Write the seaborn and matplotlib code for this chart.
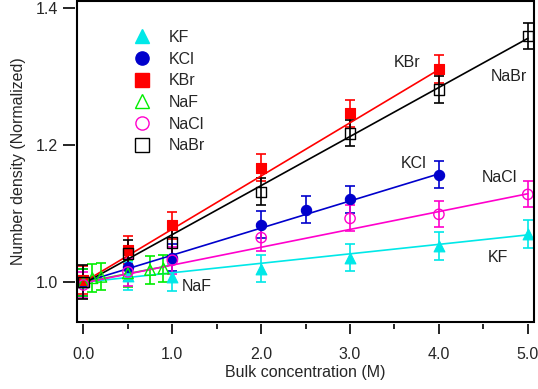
import numpy as np
import pandas as pd
import matplotlib
matplotlib.use("Agg")
import matplotlib.pyplot as plt
from matplotlib.patches import Rectangle
import seaborn as sns

# ---- data ----
salts = ["KF", "KCl", "KBr", "NaF", "NaCl", "NaBr"]

KF_x = [0, 0.5, 1, 2, 3, 4, 5]
KF_y = [1.000, 1.009, 1.007, 1.020, 1.036, 1.053, 1.070]
KF_e = [0.02, 0.02, 0.02, 0.02, 0.02, 0.02, 0.02]

KCl_x = [0, 0.5, 1, 2, 2.5, 3, 4]
KCl_y = [1.000, 1.022, 1.036, 1.084, 1.106, 1.121, 1.157]
KCl_e = [0.02, 0.02, 0.02, 0.02, 0.019, 0.02, 0.02]

KBr_x = [0, 0.5, 1, 2, 3, 4]
KBr_y = [1.003, 1.047, 1.083, 1.167, 1.246, 1.311]
KBr_e = [0.02, 0.02, 0.02, 0.02, 0.02, 0.02]

NaF_x = [0, 0.1, 0.2, 0.5, 0.75, 0.9]
NaF_y = [1.000, 1.006, 1.008, 1.013, 1.018, 1.020]
NaF_e = [0.02, 0.02, 0.02, 0.02, 0.02, 0.02]

NaCl_x = [0, 0.5, 1, 2, 3, 4, 5]
NaCl_y = [0.996, 1.015, 1.032, 1.065, 1.093, 1.099, 1.128]
NaCl_e = [0.019, 0.02, 0.02, 0.02, 0.019, 0.019, 0.019]

NaBr_x = [0, 0.5, 1, 2, 3, 4, 5]
NaBr_y = [1.000, 1.042, 1.058, 1.132, 1.217, 1.281, 1.359]
NaBr_e = [0.025, 0.02, 0.02, 0.02, 0.019, 0.019, 0.019]

# linear fits: slope, intercept, x-range end
fit_slope = [0.0138, 0.0395, 0.0775, 0.025, 0.026, 0.0715]
fit_icpt = [1.000, 1.000, 1.000, 1.000, 0.999, 0.998]
fit_xmax = [5.0, 4.0, 4.0, 0.95, 5.0, 5.0]

# label annotations (data coords)
ann_text = ["KBr", "NaBr", "KCl", "NaCl", "KF", "NaF"]
ann_x = [3.64, 4.79, 3.72, 4.68, 4.66, 1.28]
ann_y = [1.321, 1.300, 1.173, 1.152, 1.036, 0.994]

xticks = [0, 1, 2, 3, 4, 5]
xticklabels = ["0.0", "1.0", "2.0", "3.0", "4.0", "5.0"]
yticks = [1.0, 1.2, 1.4]
yticklabels = ["1.0", "1.2", "1.4"]

# ---- styling ----
sns.set_theme(style="ticks")
plt.rcParams["font.family"] = ["Liberation Sans", "DejaVu Sans"]
FS = 11.5

colors = ["#00e8e8", "#0000cc", "#ff0000", "#00ee00", "#ff00cc", "#000000"]
markers = ["^", "o", "s", "^", "o", "s"]
filled = [True, True, True, False, False, False]
msizes = [60, 55, 55, 60, 55, 55]

series = [
    (KF_x, KF_y, KF_e), (KCl_x, KCl_y, KCl_e), (KBr_x, KBr_y, KBr_e),
    (NaF_x, NaF_y, NaF_e), (NaCl_x, NaCl_y, NaCl_e), (NaBr_x, NaBr_y, NaBr_e),
]

fig = plt.figure(figsize=(5.38, 3.89), dpi=100)
ax = fig.add_axes([77 / 538, (389 - 322) / 389, 457 / 538, 321 / 389])

handles = []
for i, (name, (xs, ys, es)) in enumerate(zip(salts, series)):
    c = colors[i]
    ax.errorbar(xs, ys, yerr=es, fmt="none", ecolor=c, elinewidth=1.2,
                capsize=3.4, capthick=1.2, zorder=2)
    xf = np.array([0.0, fit_xmax[i]])
    ax.plot(xf, fit_icpt[i] + fit_slope[i] * xf, color=c, lw=1.2, zorder=3)
    df = pd.DataFrame({"x": xs, "y": ys})
    if filled[i]:
        sns.scatterplot(data=df, x="x", y="y", ax=ax, marker=markers[i],
                        s=msizes[i], color=c, edgecolor=c, linewidth=0.8,
                        zorder=4, legend=False)
    else:
        sns.scatterplot(data=df, x="x", y="y", ax=ax, marker=markers[i],
                        s=msizes[i], facecolor="none", edgecolor=c,
                        linewidth=1.0, zorder=4, legend=False)
    h = plt.Line2D([], [], ls="none", marker=markers[i], markersize=9.5,
                   color=c, markerfacecolor=c if filled[i] else "none",
                   markeredgecolor=c, markeredgewidth=1.0)
    handles.append(h)

for t, x, y in zip(ann_text, ann_x, ann_y):
    ax.text(x, y, t, fontsize=FS, ha="center", va="center", color="#222222")

ax.set_xlim(-0.073, 5.07)
ax.set_ylim(0.942, 1.410)

ax.set_xticks(xticks)
ax.set_xticklabels(xticklabels)
ax.set_xticks(np.arange(0.5, 5.0, 1.0), minor=True)
ax.set_yticks(yticks)
ax.set_yticklabels(yticklabels)

for s in ax.spines.values():
    s.set_visible(False)
ax.spines["left"].set_position(("outward", 1.5))
ax.spines["bottom"].set_position(("outward", 1.5))
ax.add_patch(Rectangle((0, 0), 1, 1, transform=ax.transAxes, fill=False,
                       edgecolor="black", lw=1.5, clip_on=False, zorder=10))

ax.tick_params(axis="x", which="major", direction="out", length=7.5,
               width=1.2, color="black", pad=9, labelsize=FS)
ax.tick_params(axis="x", which="minor", direction="out", length=3.8,
               width=1.2, color="black")
ax.tick_params(axis="y", which="major", direction="out", length=8.5,
               width=1.2, color="black", pad=3.5, labelsize=FS)
ax.tick_params(axis="y", which="minor", length=0)

ax.set_xlabel("Bulk concentration (M)", fontsize=FS, labelpad=2)
ax.set_ylabel("Number density (Normalized)", fontsize=FS, labelpad=7)

leg = ax.legend(handles, salts, loc="upper left",
                bbox_to_anchor=(0.10, 0.93), frameon=False, fontsize=FS,
                handletextpad=0.9, labelspacing=0.42, borderaxespad=0,
                handlelength=1.6)

ax.set_facecolor("white")
fig.savefig("out.png", dpi=100, facecolor="white")
